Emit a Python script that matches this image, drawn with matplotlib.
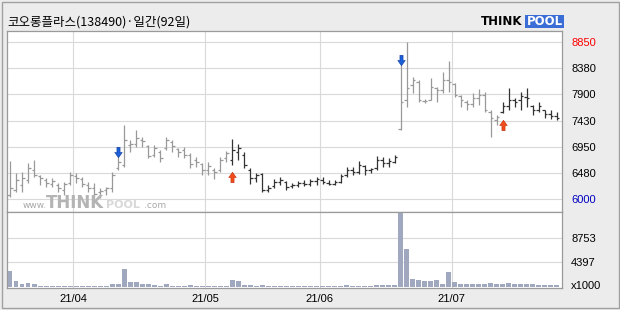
# coding: utf-8

import numpy as np
import matplotlib
matplotlib.use('Agg')
import matplotlib.pyplot as plt
from matplotlib.path import Path
from matplotlib.patches import Rectangle
from matplotlib.transforms import ScaledTranslation

W, H = 620, 310

title = '코오롱플라스(138490)·일간(92일)'

# daily OHLC, 92 sessions (2021-03-17 .. 2021-07-26)
opens = [6070, 6160, 6250, 6350, 6530, 6420, 6350, 6270, 6250, 6160,
         6290, 6420, 6360, 6250, 6200, 6130, 6160, 6200, 6560, 6620,
         6980, 7000, 7070, 6960, 6800, 6850, 6930, 7040, 6910, 6890,
         6800, 6710, 6640, 6530, 6530, 6530, 6740, 6710, 6850, 6800,
         6530, 6380, 6450, 6160, 6240, 6310, 6310, 6240, 6250, 6290,
         6270, 6330, 6350, 6290, 6270, 6310, 6440, 6530, 6490, 6600,
         6530, 6560, 6710, 6650, 6670, 7270, 7800, 8070, 8120, 7780,
         7800, 8020, 7980, 8160, 8090, 7870, 7760, 7730, 7830, 7890,
         7580, 7430, 7580, 7690, 7800, 7800, 7850, 7690, 7620, 7620,
         7540, 7510]
highs = [6690, 6470, 6490, 6650, 6710, 6440, 6380, 6380, 6290, 6310,
         6490, 6470, 6400, 6310, 6290, 6200, 6220, 6490, 6760, 7340,
         7070, 7250, 7130, 6980, 6980, 6890, 7130, 7070, 6930, 6940,
         6840, 6760, 6650, 6670, 6560, 6760, 6870, 7090, 7000, 6850,
         6560, 6470, 6470, 6250, 6360, 6400, 6330, 6290, 6330, 6350,
         6360, 6400, 6400, 6350, 6350, 6450, 6580, 6580, 6690, 6620,
         6560, 6780, 6760, 6740, 6800, 8430, 8850, 8220, 8160, 7820,
         8200, 8030, 8310, 8510, 8110, 7890, 7800, 7920, 8000, 7940,
         7620, 7530, 7760, 8020, 7830, 7940, 8020, 7710, 7760, 7620,
         7620, 7580]
lows = [6030, 6130, 6130, 6290, 6400, 6250, 6220, 6220, 6130, 6070,
        6250, 6290, 6220, 6130, 6000, 6020, 6070, 6130, 6530, 6580,
        6850, 6940, 6940, 6740, 6760, 6670, 6890, 6850, 6760, 6740,
        6560, 6580, 6440, 6440, 6360, 6490, 6670, 6620, 6710, 6560,
        6270, 6310, 6130, 6130, 6200, 6250, 6160, 6200, 6220, 6240,
        6240, 6250, 6270, 6250, 6250, 6290, 6400, 6440, 6450, 6440,
        6470, 6530, 6580, 6580, 6650, 7250, 7670, 7920, 7760, 7740,
        7800, 7760, 7920, 7940, 7850, 7670, 7620, 7670, 7710, 7580,
        7130, 7340, 7560, 7620, 7670, 7620, 7670, 7530, 7580, 7470,
        7450, 7430]
closes = [6200, 6350, 6380, 6560, 6440, 6380, 6290, 6330, 6200, 6270,
          6440, 6380, 6270, 6200, 6090, 6150, 6200, 6440, 6670, 7070,
          7000, 7110, 7050, 6780, 6930, 6740, 7070, 6960, 6850, 6800,
          6640, 6670, 6530, 6600, 6490, 6710, 6840, 6890, 6930, 6620,
          6380, 6440, 6160, 6200, 6310, 6350, 6220, 6250, 6290, 6270,
          6330, 6360, 6310, 6270, 6310, 6420, 6530, 6490, 6620, 6530,
          6550, 6710, 6650, 6690, 6760, 7760, 8020, 8160, 7800, 7780,
          8030, 7980, 8160, 8120, 7890, 7800, 7730, 7830, 7890, 7620,
          7470, 7490, 7690, 7800, 7760, 7870, 7830, 7620, 7690, 7540,
          7510, 7470]
# volume, x1000 shares
volumes = [2870, 925, 510, 690, 510, 120, 90, 80, 100, 110,
           90, 70, 60, 80, 100, 90, 110, 510, 510, 3160,
           750, 750, 510, 510, 335, 120, 510, 110, 90, 120,
           335, 100, 90, 70, 41, 80, 110, 1218, 925, 335,
           335, 110, 335, 120, 90, 100, 80, 70, 60, 90,
           80, 70, 90, 80, 110, 100, 335, 150, 120, 110,
           150, 335, 200, 335, 335, 13109, 6810, 1395, 1218, 983,
           983, 1218, 510, 2630, 865, 510, 510, 394, 510, 510,
           690, 394, 394, 690, 394, 510, 394, 394, 276, 276,
           276, 276]

sell_idx = [18, 65]
buy_idx = [37, 82]
dark_ranges = [(37, 64), (82, 91)]

month_starts = [11, 33, 52, 74]
month_labels = ['21/04', '21/05', '21/06', '21/07']

price_ticks = [8850, 8375, 7900, 7425, 6950, 6475, 6000]
price_labels = ['8850', '8380', '7900', '7430', '6950', '6480', '6000']
price_label_colors = ['#ff0000', 'black', 'black', 'black', 'black', 'black', '#0000c0']
vol_ticks = [8753, 4397]
vol_labels = ['8753', '4397']

GRAY = '#999999'
DARK = '#333333'
GRID = '#d9d9d9'
FRAME = '#9a9a9a'
NUMFONT = 'Liberation Sans'


def fx(px):
    return px / W


def fy(py):
    return 1 - py / H


def arrow_path(down=True):
    v = [(-0.15, 0.5), (0.15, 0.5), (0.15, 0.0), (0.36, 0.0),
         (0.0, -0.5), (-0.36, 0.0), (-0.15, 0.0), (-0.15, 0.5)]
    if not down:
        v = [(x, -y) for x, y in v]
    codes = [Path.MOVETO] + [Path.LINETO] * 6 + [Path.CLOSEPOLY]
    return Path(v, codes)


def is_dark(i):
    return any(a <= i <= b for a, b in dark_ranges)


def plot_price(fig, ax):
    n = len(opens)
    for i in range(n):
        c = DARK if is_dark(i) else GRAY
        ax.vlines(i, lows[i], highs[i], color=c, lw=0.9, zorder=3)
        ax.hlines(opens[i], i - 0.42, i, color=c, lw=0.9, zorder=3)
        ax.hlines(closes[i], i, i + 0.42, color=c, lw=0.9, zorder=3)

    up = ScaledTranslation(0, 5 / 100, fig.dpi_scale_trans)
    dn = ScaledTranslation(0, -12 / 100, fig.dpi_scale_trans)
    for i in sell_idx:
        ax.plot(i, highs[i], marker=arrow_path(True), ms=7.5, color='#1a5ed8',
                mec='#0d3c9c', mew=0.4, transform=ax.transData + up, zorder=5)
    for i in buy_idx:
        ax.plot(i, lows[i], marker=arrow_path(False), ms=7.5, color='#f24c1c',
                mec='#c02c08', mew=0.4, transform=ax.transData + dn, zorder=5)

    for p in price_ticks:
        ax.axhline(p, color=GRID, lw=0.8, zorder=0)
    for m in month_starts:
        ax.axvline(m - 0.5, color=GRID, lw=0.8, zorder=0)

    ax.set_xlim(-0.5, 91.85)
    ax.set_ylim(5764, 9050)
    ax.set_xticks([])
    ax.yaxis.tick_right()
    ax.set_yticks(price_ticks)
    ax.set_yticklabels(price_labels, fontsize=8, family=NUMFONT)
    for lab, c in zip(ax.get_yticklabels(), price_label_colors):
        lab.set_color(c)
    ax.tick_params(axis='y', length=0, pad=6.5)


def plot_volume(ax):
    x = np.arange(len(volumes))
    ax.bar(x, volumes, width=0.82, color='#a0a8c0', zorder=3)
    for v in vol_ticks:
        ax.axhline(v, color=GRID, lw=0.8, zorder=0)
    for m in month_starts:
        ax.axvline(m - 0.5, color=GRID, lw=0.8, zorder=0)
    ax.set_xlim(-0.5, 91.85)
    ax.set_ylim(-260, 13350)
    ax.yaxis.tick_right()
    ax.set_yticks(vol_ticks)
    ax.set_yticklabels(vol_labels, fontsize=8, family=NUMFONT)
    ax.set_xticks([m - 0.5 for m in month_starts])
    ax.set_xticklabels(month_labels, fontsize=8, family=NUMFONT)
    ax.tick_params(axis='y', length=0, pad=6.5)
    ax.tick_params(axis='x', length=0, pad=4)


def decorate(fig):
    fig.text(fx(7), fy(22), title, fontsize=9, va='center', ha='left',
             family=['Noto Sans CJK KR', 'DejaVu Sans'])
    fig.text(fx(571), fy(286), 'x1000', fontsize=8, va='center', ha='left',
             family=NUMFONT)

    # logo top right
    fig.text(fx(481), fy(21.5), 'THINK', fontsize=8.5, fontweight='bold',
             va='center', ha='left', family='DejaVu Sans', color='black')
    fig.patches.append(Rectangle((fx(525), fy(27.5)), 39 / W, 12.5 / H,
                                 transform=fig.transFigure, facecolor='#3a6ed6',
                                 edgecolor='none'))
    fig.text(fx(544.5), fy(21.5), 'POOL', fontsize=8.5, fontweight='bold',
             va='center', ha='center', family='DejaVu Sans', color='white')

    # watermark in price panel
    fig.text(fx(23), fy(208), 'www.', fontsize=6.5,
             va='baseline', ha='left', family='DejaVu Sans', color='#a8a8a8', zorder=6)
    fig.text(fx(46), fy(208.5), 'THINK', fontsize=12, fontweight='bold',
             va='baseline', ha='left', family='DejaVu Sans', color='#b4b4b4', zorder=6)
    fig.text(fx(106), fy(208.5), 'POOL', fontsize=8, fontweight='bold',
             va='baseline', ha='left', family='DejaVu Sans', color='#d8d8d8', zorder=6)
    fig.text(fx(144), fy(208), '.com', fontsize=6.5,
             va='baseline', ha='left', family='DejaVu Sans', color='#a8a8a8', zorder=6)

    # outer frame
    fig.patches.append(Rectangle((fx(1.5), fy(307.5)), 617 / W, 306 / H,
                                 transform=fig.transFigure, fill=False,
                                 edgecolor='#a0a0a0', lw=1.0))


def main():
    plt.close('all')
    fig = plt.figure(figsize=(W / 100, H / 100), dpi=100, facecolor='#ececec')
    ax_p = fig.add_axes([fx(7), fy(212), (562 - 7) / W, (212 - 31) / H])
    ax_v = fig.add_axes([fx(7), fy(288), (562 - 7) / W, (288 - 212) / H])
    for ax in (ax_p, ax_v):
        ax.set_facecolor('white')
        for s in ax.spines.values():
            s.set_color(FRAME)
            s.set_linewidth(0.9)

    plot_price(fig, ax_p)
    plot_volume(ax_v)
    decorate(fig)

    fig.savefig('out.png', dpi=100, facecolor=fig.get_facecolor())


if __name__ == "__main__":
    main()
